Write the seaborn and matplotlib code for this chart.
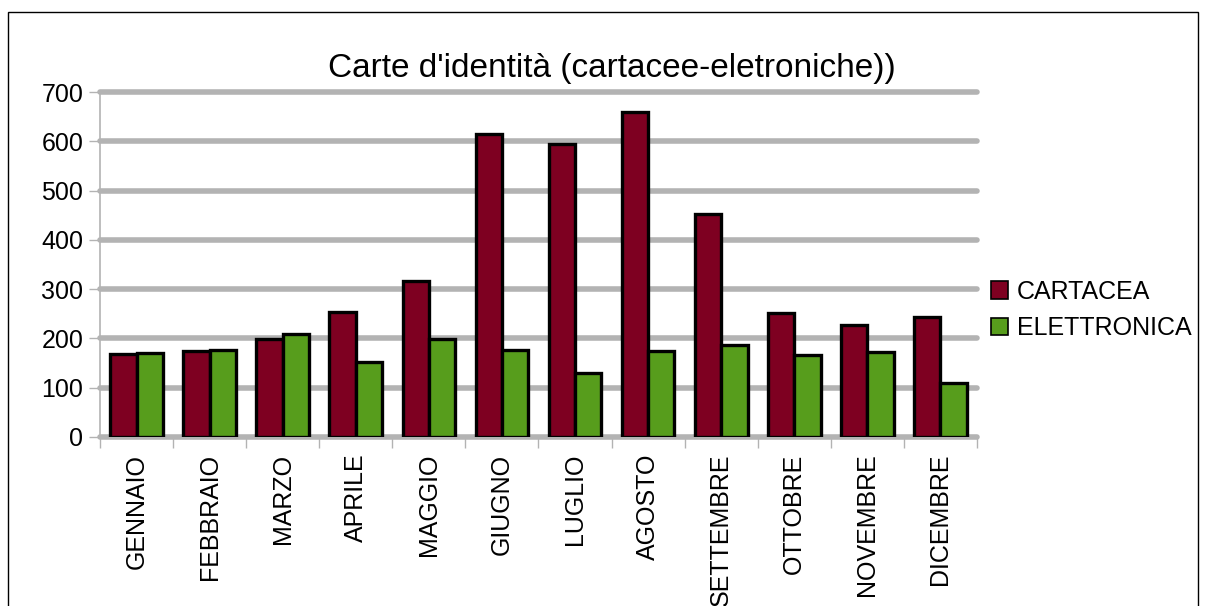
import pandas as pd
import numpy as np
import matplotlib.pyplot as plt
import seaborn as sns
from matplotlib.patches import Rectangle, Patch

mesi = ["GENNAIO", "FEBBRAIO", "MARZO", "APRILE", "MAGGIO", "GIUGNO",
        "LUGLIO", "AGOSTO", "SETTEMBRE", "OTTOBRE", "NOVEMBRE", "DICEMBRE"]
cartacea = [168, 174, 198, 253, 317, 614, 594, 659, 452, 251, 228, 244]
elettronica = [171, 177, 209, 152, 199, 176, 129, 174, 186, 166, 172, 110]
serie = ["CARTACEA", "ELETTRONICA"]
colori = ["#7e0021", "#579d1c"]

df = pd.DataFrame({
    "mese": mesi * 2,
    "valore": cartacea + elettronica,
    "tipo": [serie[0]] * len(mesi) + [serie[1]] * len(mesi),
})

sns.set_style("white")
plt.rcParams["font.family"] = ["Liberation Sans", "DejaVu Sans"]
plt.rcParams["text.color"] = "black"
plt.rcParams["xtick.color"] = "black"
plt.rcParams["ytick.color"] = "black"

fig = plt.figure(figsize=(12.06, 6.06), dpi=100)
ax = fig.add_axes([100 / 1206, 1 - 437 / 606, 877 / 1206, 345 / 606])

sns.barplot(data=df, x="mese", y="valore", hue="tipo", palette=colori,
            saturation=1, width=0.72, edgecolor="black", linewidth=2.4,
            ax=ax, legend=False, zorder=3)

ax.set_ylim(0, 700)
ax.set_xlim(-0.5, len(mesi) - 0.5)
ax.set_yticks(range(0, 701, 100))
ax.yaxis.grid(True, color="#b3b3b3", linewidth=4, zorder=0)
for gl in ax.get_ygridlines():
    gl.set_clip_on(False)
ax.set_axisbelow(True)
ax.set_xlabel("")
ax.set_ylabel("")
for s in ["top", "right", "bottom"]:
    ax.spines[s].set_visible(False)
ax.spines["left"].set_color("#b3b3b3")
ax.spines["left"].set_linewidth(1.2)

ax.tick_params(axis="y", left=True, length=8, width=1, color="#b3b3b3",
               labelcolor="black", labelsize=18, pad=4)
ax.set_xticks(np.arange(len(mesi)))
ax.set_xticklabels(mesi, rotation=90, fontsize=18, color="black")
ax.tick_params(axis="x", which="major", bottom=False, length=0, pad=12)
ax.set_xticks(np.arange(-0.5, len(mesi)), minor=True)
ax.tick_params(axis="x", which="minor", bottom=True, length=8, width=1,
               color="#b3b3b3")

fig.text(612 / 1206, 1 - 68 / 606, "Carte d'identità (cartacee-eletroniche))",
         ha="center", va="center", fontsize=24)

handles = [Patch(facecolor=c, edgecolor="black", linewidth=1.2) for c in colori]
fig.legend(handles, serie, loc="center left",
           bbox_to_anchor=(968 / 1206, 1 - 310 / 606), frameon=False,
           fontsize=18, handlelength=0.7, handleheight=0.7,
           handletextpad=0.35, labelspacing=0.5)

fig.patches.append(Rectangle((8 / 1206, -0.1), 1190 / 1206, 1.1 - 12 / 606,
                             transform=fig.transFigure, fill=False,
                             edgecolor="black", linewidth=1))

fig.savefig("out.png", dpi=100)
